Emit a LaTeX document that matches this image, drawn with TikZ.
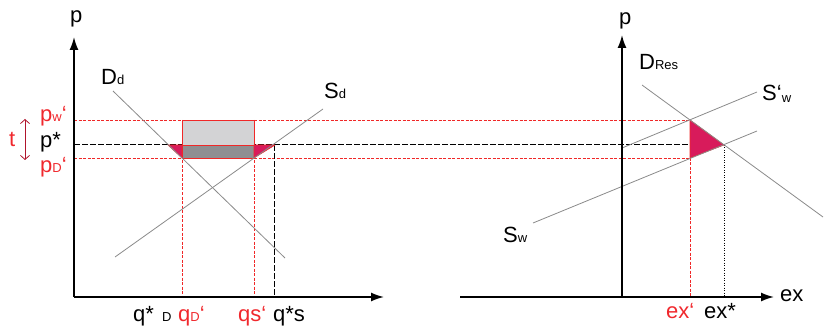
\documentclass[tikz,border=0pt]{standalone}
\usepackage{fontspec}
\setmainfont{Liberation Sans}
\usetikzlibrary{arrows.meta}
\definecolor{lred}{HTML}{F02828}
\definecolor{tred}{HTML}{F0282D}
\definecolor{crim}{HTML}{D81B5B}
\definecolor{lgrey}{HTML}{D3D3D5}
\definecolor{dgrey}{HTML}{8F8F92}
\definecolor{curvecol}{HTML}{8A8A8A}
\definecolor{darrow}{HTML}{B0142C}
\newcommand\sbs[1]{{\fontsize{13}{13}\selectfont #1}}
\begin{document}
\begin{tikzpicture}[x=1pt,y=-1pt,
  axis/.style={line width=1.6pt,-{Latex[length=13pt,width=9pt]}},
  curve/.style={curvecol,line width=0.8pt},
  reddash/.style={lred,line width=0.8pt,dash pattern=on 3pt off 1.5pt},
  blackdash/.style={black,line width=1pt,dash pattern=on 6pt off 2pt},
  blackdot/.style={black,line width=0.9pt,dash pattern=on 1pt off 1.5pt},
  lbl/.style={inner sep=0pt,anchor=base west,font=\fontsize{22}{25}\selectfont},
  rlbl/.style={lbl,text=tred},
  tri/.style={fill=crim,draw=lred,line width=0.6pt,line join=round}]
\useasboundingbox (0,0) rectangle (825,326);
% coordinates
\coordinate (LO) at (74,297);
\coordinate (LY) at (74,37);
\coordinate (LX) at (384,297);
\coordinate (RO) at (622,297);
\coordinate (RY) at (622,35);
\coordinate (RXs) at (460,297);
\coordinate (RX) at (774,297);
\coordinate (pwL) at (74,120);
\coordinate (psL) at (74,145);
\coordinate (pdL) at (74,158);
\coordinate (pwR) at (690,120);
\coordinate (psR) at (690,145);
\coordinate (pdR) at (690,158);
\coordinate (exs) at (724,145);
\coordinate (exsB) at (724,297);
\coordinate (expB) at (690,297);
\coordinate (qdT) at (182,120);
\coordinate (qdB) at (182,297);
\coordinate (qsT) at (254,120);
\coordinate (qsB) at (254,297);
\coordinate (qstarT) at (274,145);
\coordinate (qstarB) at (274,297);
% dashed guide lines
\draw[reddash] (pwL) -- (pwR);
\draw[reddash] (pdL) -- (pdR);
\draw[blackdash] (psL) -- (psR);
\draw[reddash] (qdT) -- (qdB);
\draw[reddash] (qsT) -- (qsB);
\draw[blackdash] (qstarT) -- (qstarB);
\draw[reddash] (pdR) -- (expB);
\draw[blackdot] (exs) -- (exsB);
% rectangles and triangles
\draw[fill=lgrey,draw=lred,line width=0.8pt] (182,120) rectangle (254,145);
\draw[fill=dgrey,draw=lred,line width=0.8pt] (182,145) rectangle (254,158);
\draw[tri] (168,145) -- (182,145) -- (182,158) -- cycle;
\draw[tri] (254,145) -- (275,145) -- (254,158) -- cycle;
\draw[tri] (pwR) -- (exs) -- (pdR) -- cycle;
% curves
\draw[curve] (113,91) -- (285,258);
\draw[curve] (115,257) -- (323,109);
\draw[curve] (642,85) -- (823,217);
\draw[curve] (622,148) -- (757,92);
\draw[curve] (533,223) -- (757,131);
% axes
\draw[axis] (LO) -- (LY);
\draw[axis] (LO) -- (LX);
\draw[axis] (RO) -- (RY);
\draw[axis] (RXs) -- (RX);
% t arrow
\draw[darrow,line width=0.8pt,{Straight Barb[length=4pt,width=9pt]}-{Straight Barb[length=4pt,width=9pt]}] (25,119) -- (25,160);
% labels
\node[lbl] (pL) at (70,23) {p};
\node[lbl] (pR) at (619,25) {p};
\node[lbl] (Dd) at (101,85) {D\sbs{d}};
\node[lbl] (Sd) at (324,99) {S\sbs{d}};
\node[lbl] (DRes) at (639,70) {D\sbs{Res}};
\node[lbl] (Swp) at (762,101) {S‘\raisebox{-2pt}{\sbs{w}}};
\node[lbl] (Sw) at (503,242) {S\sbs{w}};
\node[lbl] (ex) at (780,301) {ex};
\node[rlbl] (exp) at (666,318) {ex‘};
\node[lbl] (exst) at (704,318) {ex*};
\node[lbl] (qst) at (133,321) {q*};
\node[lbl] (qD) at (162,321) {\sbs{D}};
\node[rlbl] (qDp) at (178,321) {q\sbs{D}‘};
\node[rlbl] (qsp) at (238,321) {qs‘};
\node[lbl] (qss) at (273,321) {q*s};
\node[rlbl] (pw) at (40,122) {p\sbs{w}‘};
\node[lbl] (pst) at (40,148) {p*};
\node[rlbl] (pD) at (40,173) {p\sbs{D}‘};
\node[rlbl] (t) at (9,147) {t};
\end{tikzpicture}
\end{document}
